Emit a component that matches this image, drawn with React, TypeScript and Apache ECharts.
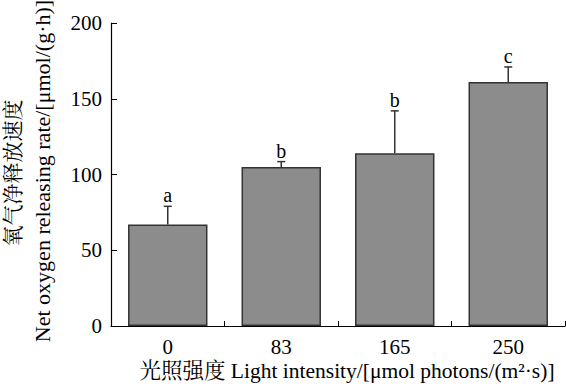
import React, { useEffect, useRef } from "react";
import * as echarts from "echarts";

const categories = ["0", "83", "165", "250"];
const means = [67, 105, 114, 161];
const errors = [12, 3.5, 28, 10];
const letters = ["a", "b", "b", "c"];
const yTicks = [0, 50, 100, 150, 200];

const yNameCn = "氧气净释放速度";
const yNameEn = "Net oxygen releasing rate/[μmol/(g·h)]";
const xName = "光照强度 Light intensity/[μmol photons/(m²·s)]";

const FONT = "'Liberation Serif', 'Times New Roman', 'Noto Serif CJK SC', 'Noto Sans CJK SC', serif";

export default function App() {
  const ref = useRef<HTMLDivElement>(null);
  useEffect(() => {
    if (!ref.current) return;
    const chart = echarts.init(ref.current, undefined, { renderer: "svg" });
    const errData = categories.map((_, i) => [i, means[i], errors[i], letters[i]]);
    chart.setOption({
      animation: false,
      backgroundColor: "#ffffff",
      grid: { left: 111, right: 1, top: 23, bottom: 62, containLabel: false },
      xAxis: {
        type: "category",
        data: categories,
        boundaryGap: true,
        axisLine: { lineStyle: { color: "#000", width: 1.2 } },
        axisTick: { show: true, inside: true, length: 5, alignWithLabel: false, lineStyle: { color: "#000" } },
        axisLabel: { color: "#000", fontFamily: FONT, fontSize: 21, margin: 10 },
        splitLine: { show: false },
      },
      yAxis: {
        type: "value",
        min: yTicks[0],
        max: yTicks[yTicks.length - 1],
        interval: 50,
        axisLine: { show: true, lineStyle: { color: "#000", width: 1.2 } },
        axisTick: { show: true, inside: true, length: 6, lineStyle: { color: "#000" } },
        axisLabel: { color: "#000", fontFamily: FONT, fontSize: 21, margin: 9 },
        splitLine: { show: false },
      },
      graphic: [
        {
          type: "text",
          x: 13,
          y: 173,
          rotation: Math.PI / 2,
          style: { text: yNameCn, fontFamily: FONT, fontSize: 21, fill: "#000", align: "center", verticalAlign: "middle" },
        },
        {
          type: "text",
          x: 42,
          y: 171,
          rotation: Math.PI / 2,
          style: { text: yNameEn, fontFamily: FONT, fontSize: 22, fill: "#000", align: "center", verticalAlign: "middle" },
        },
        {
          type: "text",
          x: 347,
          y: 371,
          style: { text: xName, fontFamily: FONT, fontSize: 21.5, fill: "#000", align: "center", verticalAlign: "middle" },
        },
      ],
      series: [
        {
          type: "bar",
          data: means,
          barWidth: "70%",
          itemStyle: { color: "#8c8c8c", borderColor: "#333", borderWidth: 1.5 },
          z: 2,
        },
        {
          type: "custom",
          data: errData,
          z: 3,
          renderItem: (params: any, api: any) => {
            const i = api.value(0);
            const m = api.value(1);
            const e = api.value(2);
            const base = api.coord([i, m]);
            const top = api.coord([i, m + e]);
            const cap = 4;
            return {
              type: "group",
              children: [
                { type: "line", shape: { x1: base[0], y1: base[1], x2: top[0], y2: top[1] }, style: { stroke: "#333", lineWidth: 1.5 } },
                { type: "line", shape: { x1: top[0] - cap, y1: top[1], x2: top[0] + cap, y2: top[1] }, style: { stroke: "#333", lineWidth: 1.5 } },
                {
                  type: "text",
                  style: {
                    text: letters[i],
                    x: top[0],
                    y: top[1] - 1,
                    align: "center",
                    verticalAlign: "bottom",
                    fontFamily: FONT,
                    fontSize: 20,
                    fill: "#000",
                  },
                },
              ],
            };
          },
        },
      ],
    });
    return () => chart.dispose();
  }, []);
  return <div ref={ref} style={{ width: 566, height: 388, position: "absolute", left: 0, top: 0 }} />;
}
